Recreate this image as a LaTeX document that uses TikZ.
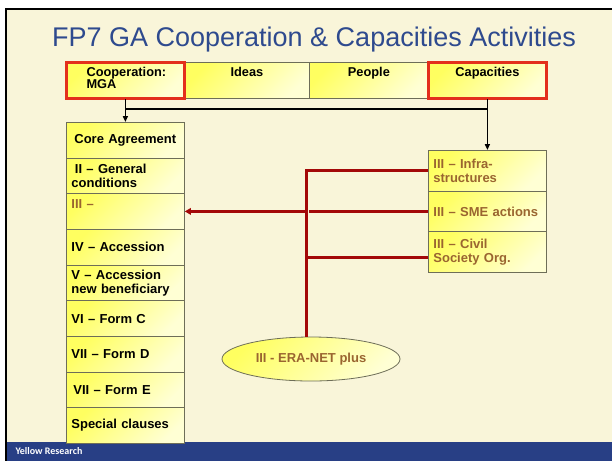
\documentclass[tikz,border=0pt]{standalone}
\usepackage{fontspec}
\setmainfont{Liberation Sans}
\newfontfamily\footfont{Carlito}
\usetikzlibrary{arrows.meta,shapes.geometric}
\definecolor{cream}{HTML}{F9F5D9}
\definecolor{ttl}{HTML}{2E4A8E}
\definecolor{foot}{HTML}{283F85}
\definecolor{rline}{HTML}{A30808}
\definecolor{rbox}{HTML}{E3301C}
\definecolor{brn}{HTML}{9A6530}
\definecolor{bline}{HTML}{6E6E58}
\definecolor{yA}{HTML}{FFFF60}
\definecolor{yB}{HTML}{FFFFD4}
\newcommand{\bxfont}{\bfseries\fontsize{13}{14.4}\selectfont}
\newcommand{\tpfont}{\bfseries\fontsize{12.8}{12.5}\selectfont}
\begin{document}
\begin{tikzpicture}[x=1pt,y=-1pt,
  yfill/.style={top color=yA, bottom color=yB, shading angle=45},
  box/.style={draw=bline, line width=0.8, yfill, minimum width=118, minimum height=35.67,
    inner xsep=5, inner ysep=0, text width=108, align=left, anchor=north west, font=\bxfont},
  rbox/.style={box, minimum height=40.67},
  topbox/.style={draw=bline, line width=0.8, yfill, minimum height=36, inner sep=0, anchor=north west},
  redframe/.style={draw=rbox, line width=3},
  toptext/.style={anchor=north, font=\tpfont, align=left},
  blk/.style={line width=1.5, black},
  blkarrow/.style={blk, -{Triangle[length=6,width=5]}},
  redl/.style={line width=3, rline},
  redarrow/.style={redl, -{Triangle[length=6,width=6.5]}}
]
\useasboundingbox (0,0) rectangle (612,461);
% background & frame
\fill[white] (0,0) rectangle (612,461);
\fill[black] (4.5,7.5) rectangle (612,461);
\fill[cream] (6.5,9.5) rectangle (612,441.5);
\fill[foot] (6.5,441.5) rectangle (612,461);
\node[anchor=west, text=white, font=\footfont\bfseries\fontsize{10}{11}\selectfont] (foottxt) at (12,451.5) {Yellow Research};
% title
\node[anchor=base, text=ttl, font=\fontsize{27}{30}\selectfont] (title) at (314,46) {FP7 GA Cooperation \& Capacities Activities};
% top boxes
\node[topbox, minimum width=118] (coop) at (66,62) {};
\node[topbox, minimum width=125] (ideas) at (184,62) {};
\node[topbox, minimum width=119] (people) at (309,62) {};
\node[topbox, minimum width=118] (caps) at (428,62) {};
\draw[redframe] (coop.north west) rectangle (coop.south east);
\draw[redframe] (caps.north west) rectangle (caps.south east);
\node[toptext, anchor=north west] (cooptxt) at (83,63.5) {Cooperation:\\MGA};
\node[toptext] (ideastxt) at (ideas.north |- 0,63.5) {Ideas};
\node[toptext] (peopletxt) at (people.north |- 0,63.5) {People};
\node[toptext] (capstxt) at (caps.north |- 0,63.5) {Capacities};
% left column
\node[box] (l1) at (66,122) {\hspace*{3pt}Core Agreement};
\node[box] (l2) at (66,157.67) {\hspace*{3.5pt}II -- General\\conditions};
\node[box, text=brn] (l3) at (66,193.33) {III --\\\mbox{}};
\node[box] (l4) at (66,229) {IV -- Accession};
\node[box] (l5) at (66,264.67) {V -- Accession\\new beneficiary};
\node[box] (l6) at (66,300.33) {VI -- Form C};
\node[box] (l7) at (66,336) {VII -- Form D};
\node[box] (l8) at (66,371.67) {\hspace*{2pt}VII -- Form E};
\node[box] (l9) at (66,407.33) {Special clauses};
% right column
\node[rbox, text=brn] (infra) at (428,150) {III -- Infra-\\structures};
\node[rbox, text=brn] (sme) at (428,190.67) {III -- SME actions};
\node[rbox, text=brn] (civ) at (428,231.33) {III -- Civil\\Society Org.};
% ellipse
\node[ellipse, draw=bline, line width=0.8, yfill, minimum width=178, minimum height=44, inner sep=0, font=\bxfont, text=brn] (era) at (311,359) {III - ERA-NET plus};
% black connectors
\coordinate (hl) at (coop.south |- 0,109);
\coordinate (hr) at (caps.south |- 0,109);
\draw[blk] (hl) -- (hr);
\draw[blkarrow] (coop.south) -- (l1.north);
\draw[blkarrow] (caps.south) -- (infra.north);
% red connectors
\path (infra.west) ++(-122,0) coordinate (j1);
\path (civ.west) ++(0,5.5) coordinate (cv);
\coordinate (gapL) at (j1 |- sme.west);
\path (sme.west) ++(-119,0) coordinate (gapR);
\draw[redl] (sme.west) -- (gapR);
\draw[redarrow] (gapL) -- (gapL -| l3.east);
\draw[redl, line join=miter] (infra.west) -- (j1) -- (j1 |- era.north);
\draw[redl] (cv) -- (cv -| j1);
\end{tikzpicture}
\end{document}
